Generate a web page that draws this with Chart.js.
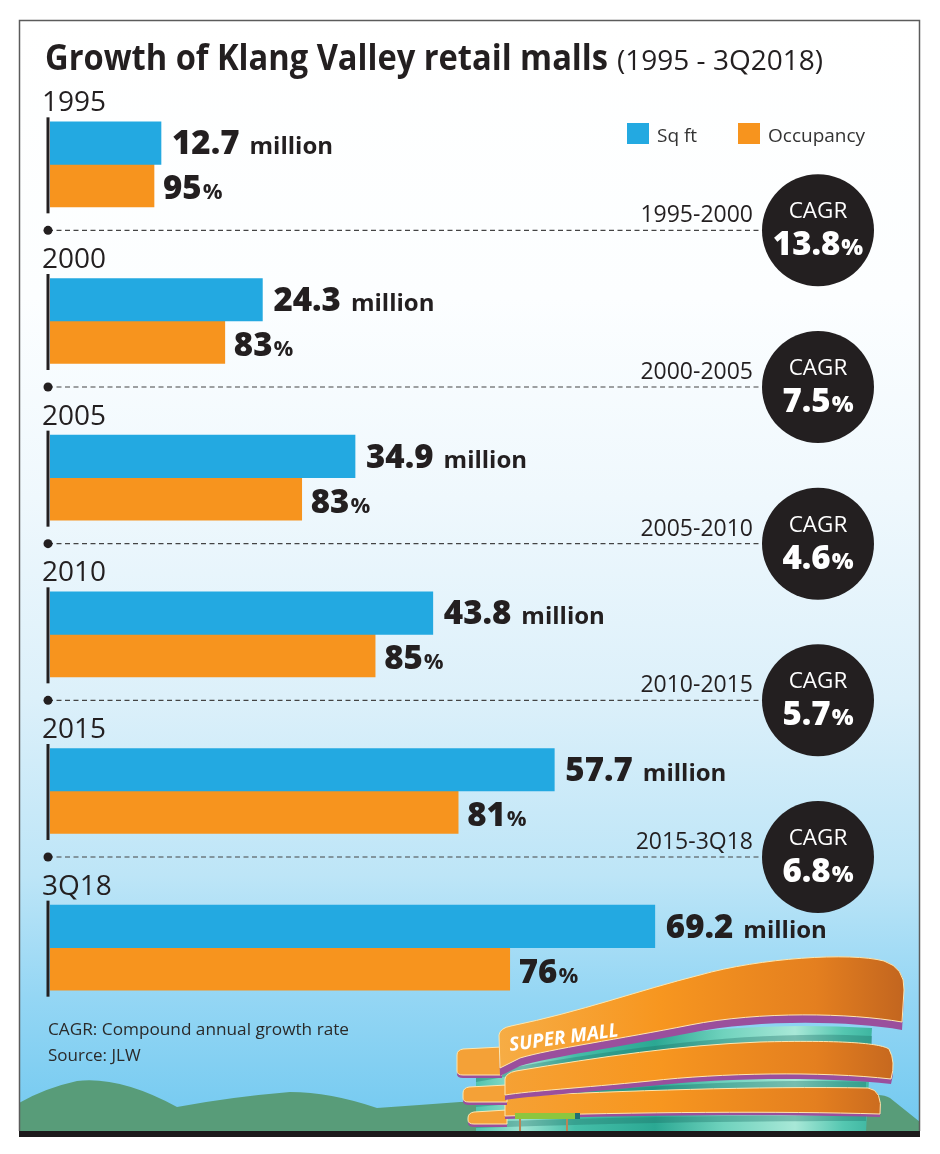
<!DOCTYPE html>
<html>
<head>
<meta charset="utf-8">
<script src="https://cdn.jsdelivr.net/npm/chart.js@4.4.1/dist/chart.umd.min.js"></script>
<style>
html,body{margin:0;padding:0;background:#fff;overflow:hidden;}
canvas{display:block;}
</style>
</head>
<body>
<canvas id="c" width="940" height="1154"></canvas>
<script>
// ---- data ----
const categories = ['1995', '2000', '2005', '2010', '2015', '3Q18'];
const sqftMillion = [12.7, 24.3, 34.9, 43.8, 57.7, 69.2];        // blue bars (million sq ft)
const occupancyPct = [95, 83, 83, 85, 81, 76];                   // labels on orange bars
const occupiedMillion = [11.9, 20.0, 28.8, 37.2, 46.7, 52.6];    // orange bar lengths
const cagrPeriods = ['1995-2000', '2000-2005', '2005-2010', '2010-2015', '2015-3Q18'];
const cagrPct = ['13.8', '7.5', '4.6', '5.7', '6.8'];
const seriesNames = ['Sq ft', 'Occupancy'];

const BLUE = '#23a9e1', ORANGE = '#f7941e', INK = '#231f20';
const FONT = '"Open Sans", "Liberation Sans", sans-serif';

function txt(ctx, s, x, y, font, color, align, w) {
  ctx.save();
  ctx.font = font; ctx.fillStyle = color; ctx.textBaseline = 'alphabetic'; ctx.textAlign = 'left';
  const m = ctx.measureText(s).width;
  const sx = w ? w / m : 1;
  const x0 = align === 'right' ? x - m * sx : (align === 'center' ? x - m * sx / 2 : x);
  ctx.translate(x0, y); ctx.scale(sx, 1); ctx.fillText(s, 0, 0);
  ctx.restore();
  return m * sx;
}
function measure(ctx, s, font) { ctx.save(); ctx.font = font; const w = ctx.measureText(s).width; ctx.restore(); return w; }

function drawMall(ctx) {
  ctx.save();
  // glass body
  const g = ctx.createLinearGradient(475, 0, 875, 0);
  g.addColorStop(0, '#4fc3ad'); g.addColorStop(0.12, '#9ee3d2'); g.addColorStop(0.25, '#45bea8');
  g.addColorStop(0.45, '#2ba893'); g.addColorStop(0.62, '#6fd2bd'); g.addColorStop(0.8, '#a8e8d7');
  g.addColorStop(0.92, '#55c7b1'); g.addColorStop(1, '#3bb49f');
  ctx.fillStyle = g;
  ctx.beginPath();
  ctx.moveTo(476, 1131); ctx.lineTo(476, 1070); ctx.lineTo(520, 1058);
  ctx.bezierCurveTo(640, 1036, 740, 1020, 872, 1028);
  ctx.lineTo(866, 1131); ctx.closePath(); ctx.fill();
  // darker shade under bands
  ctx.fillStyle = 'rgba(30,110,100,0.35)';
  ctx.beginPath(); ctx.moveTo(476,1074); ctx.bezierCurveTo(640,1044,760,1030,872,1036); ctx.lineTo(872,1044); ctx.bezierCurveTo(760,1040,640,1052,476,1082); ctx.closePath(); ctx.fill();
  ctx.beginPath(); ctx.moveTo(476,1100); ctx.bezierCurveTo(640,1086,760,1078,866,1082); ctx.lineTo(866,1089); ctx.bezierCurveTo(760,1086,640,1093,476,1107); ctx.closePath(); ctx.fill();
  ctx.beginPath(); ctx.moveTo(476,1122); ctx.bezierCurveTo(640,1116,760,1115,866,1116); ctx.lineTo(866,1121); ctx.bezierCurveTo(760,1121,640,1122,476,1128); ctx.closePath(); ctx.fill();

  function bandGrad(light) {
    const bg = ctx.createLinearGradient(460, 0, 905, 0);
    bg.addColorStop(0, light ? '#f6b24e' : '#f5a43a');
    bg.addColorStop(0.45, '#f7961f');
    bg.addColorStop(0.8, '#e47f1f');
    bg.addColorStop(1, '#c2651f');
    return bg;
  }
  function band(pathFn, drop, light) {
    ctx.save(); ctx.translate(0, drop); ctx.fillStyle = '#9a4f9d'; pathFn(); ctx.fill(); ctx.restore();
    ctx.fillStyle = bandGrad(light); pathFn(); ctx.fill();
    ctx.strokeStyle = '#fde7b0'; ctx.lineWidth = 1; pathFn(); ctx.stroke();
  }
  function leftPiece(x1, y1, x2, y2) {
    const p = () => { ctx.beginPath(); ctx.moveTo(x2, y1); ctx.lineTo(x1 + 6, y1 + 2); ctx.quadraticCurveTo(x1, y1 + 3, x1, y1 + 8); ctx.lineTo(x1, y2 - 4); ctx.quadraticCurveTo(x1, y2, x1 + 6, y2); ctx.lineTo(x2, y2); ctx.closePath(); };
    ctx.save(); ctx.translate(0, 3); ctx.fillStyle = '#9a4f9d'; p(); ctx.fill(); ctx.restore();
    ctx.fillStyle = '#f4a137'; p(); ctx.fill();
    ctx.strokeStyle = '#fde7b0'; ctx.lineWidth = 1; ctx.stroke();
  }
  // band 3 (lowest)
  leftPiece(468, 1110, 507, 1124);
  band(function () {
    ctx.beginPath(); ctx.moveTo(505, 1116); ctx.lineTo(505, 1102); ctx.quadraticCurveTo(507, 1097, 516, 1096);
    ctx.bezierCurveTo(620, 1091, 760, 1086, 868, 1088); ctx.quadraticCurveTo(883, 1090, 880, 1114);
    ctx.bezierCurveTo(780, 1111, 640, 1112, 505, 1116); ctx.closePath();
  }, 3, false);
  // band 2
  leftPiece(463, 1085, 507, 1102);
  band(function () {
    ctx.beginPath(); ctx.moveTo(505, 1095); ctx.lineTo(505, 1079); ctx.quadraticCurveTo(506, 1073, 516, 1071);
    ctx.bezierCurveTo(600, 1057, 680, 1045, 760, 1042); ctx.bezierCurveTo(840, 1040, 880, 1043, 889, 1049);
    ctx.quadraticCurveTo(896, 1062, 891, 1079);
    ctx.bezierCurveTo(820, 1071, 720, 1073, 650, 1081); ctx.bezierCurveTo(580, 1088, 530, 1091, 505, 1095); ctx.closePath();
  }, 5, false);
  // band 1 (sign)
  leftPiece(457, 1047, 502, 1075);
  band(function () {
    ctx.beginPath(); ctx.moveTo(500, 1068); ctx.lineTo(499, 1035); ctx.quadraticCurveTo(500, 1028, 511, 1026);
    ctx.bezierCurveTo(580, 1012, 640, 990, 700, 975); ctx.bezierCurveTo(760, 958, 850, 952, 884, 961);
    ctx.quadraticCurveTo(905, 968, 904, 990); ctx.lineTo(902, 1022);
    ctx.bezierCurveTo(850, 1013, 760, 1011, 690, 1025); ctx.bezierCurveTo(620, 1039, 550, 1049, 520, 1058); ctx.closePath();
  }, 8, true);
  // awning
  ctx.fillStyle = '#8cc63f'; ctx.fillRect(515, 1113, 60, 6);
  ctx.fillStyle = '#1f6f73'; ctx.fillRect(575, 1113, 5, 6);
  ctx.fillStyle = '#b98457'; ctx.fillRect(519, 1119, 2, 12); ctx.fillRect(566, 1119, 2, 12);
  // sign text
  ctx.save(); ctx.translate(510, 1051); ctx.rotate(-0.135);
  txt(ctx, 'SUPER MALL', 0, 0, 'italic bold 19px ' + FONT, '#ffffff', 'left', 110);
  ctx.restore();
  ctx.restore();
}

const backdrop = {
  id: 'backdrop',
  beforeDraw(chart) {
    const ctx = chart.ctx;
    ctx.save();
    ctx.fillStyle = '#ffffff'; ctx.fillRect(0, 0, 940, 1154);
    const sky = ctx.createLinearGradient(0, 20, 0, 1131);
    sky.addColorStop(0, '#ffffff'); sky.addColorStop(0.25, '#fcfeff'); sky.addColorStop(0.43, '#eff8fd');
    sky.addColorStop(0.61, '#dcf0fa'); sky.addColorStop(0.77, '#bde5f7'); sky.addColorStop(0.88, '#94d6f4');
    sky.addColorStop(1, '#72c9f0');
    ctx.fillStyle = sky; ctx.fillRect(19, 20, 901, 1111);
    // hills
    ctx.fillStyle = '#589c79';
    ctx.beginPath(); ctx.moveTo(19, 1103);
    ctx.quadraticCurveTo(45, 1088, 77, 1081); ctx.quadraticCurveTo(120, 1076, 177, 1107);
    ctx.quadraticCurveTo(230, 1097, 290, 1092); ctx.quadraticCurveTo(330, 1092, 377, 1108);
    ctx.quadraticCurveTo(420, 1105, 460, 1102); ctx.lineTo(860, 1098);
    ctx.quadraticCurveTo(880, 1092, 890, 1098); ctx.quadraticCurveTo(905, 1110, 920, 1122);
    ctx.lineTo(920, 1131); ctx.lineTo(19, 1131); ctx.closePath(); ctx.fill();
    // frame
    ctx.strokeStyle = '#5b5b5b'; ctx.lineWidth = 1.5;
    ctx.beginPath(); ctx.moveTo(19.5, 1131); ctx.lineTo(19.5, 20.5); ctx.lineTo(919.5, 20.5); ctx.lineTo(919.5, 1131); ctx.stroke();
    ctx.fillStyle = '#1c1a1b'; ctx.fillRect(19, 1131, 901, 6);
    drawMall(ctx);
    ctx.restore();
  }
};

const overlay = {
  id: 'overlay',
  afterDatasetsDraw(chart) {
    const ctx = chart.ctx, xs = chart.scales.x, ys = chart.scales.y;
    ctx.save();
    // title
    txt(ctx, 'Growth of Klang Valley retail malls', 45, 70, 'bold 35px ' + FONT, INK, 'left', 563);
    txt(ctx, '(1995 - 3Q2018)', 617, 70, '28px ' + FONT, INK, 'left', 206);
    // legend
    const ds = chart.data.datasets;
    ctx.fillStyle = ds[0].backgroundColor; ctx.fillRect(627, 123, 22, 21);
    txt(ctx, ds[0].label, 657, 142, '19px ' + FONT, '#333333', 'left');
    ctx.fillStyle = ds[1].backgroundColor; ctx.fillRect(738, 123, 22, 21);
    txt(ctx, ds[1].label, 768, 142, '19px ' + FONT, '#333333', 'left');

    // dashed separators with CAGR
    cagrPeriods.forEach((p, i) => {
      const ly = ys.getPixelForValue(i) + 66;
      ctx.save();
      ctx.strokeStyle = '#444'; ctx.lineWidth = 1.2; ctx.setLineDash([5, 3.5]);
      ctx.beginPath(); ctx.moveTo(48, ly); ctx.lineTo(800, ly); ctx.stroke();
      ctx.restore();
      ctx.fillStyle = INK; ctx.beginPath(); ctx.arc(48, ly, 4.5, 0, Math.PI * 2); ctx.fill();
      txt(ctx, p, 753, ly - 8, '23px ' + FONT, INK, 'right');
      ctx.fillStyle = INK; ctx.beginPath(); ctx.arc(818, ly, 56, 0, Math.PI * 2); ctx.fill();
      txt(ctx, 'CAGR', 818, ly - 12, '22.5px ' + FONT, '#ffffff', 'center');
      const f1 = '800 33px ' + FONT, f2 = '800 23px ' + FONT;
      const w1 = measure(ctx, cagrPct[i], f1), w2 = measure(ctx, '%', f2);
      const x0 = 818 - (w1 + w2 + 1) / 2;
      txt(ctx, cagrPct[i], x0, ly + 25, f1, '#ffffff', 'left');
      txt(ctx, '%', x0 + w1 + 1, ly + 25, f2, '#ffffff', 'left');
    });

    categories.forEach((c, i) => {
      const cy = ys.getPixelForValue(i);
      txt(ctx, c, 42, cy - 53, '28px ' + FONT, INK, 'left');
      ctx.fillStyle = INK; ctx.fillRect(46.5, cy - 47, 3, 96);
      const bx = xs.getPixelForValue(sqftMillion[i]) + 11;
      const wn = txt(ctx, sqftMillion[i].toFixed(1), bx, cy - 10, '800 33px ' + FONT, INK, 'left');
      txt(ctx, 'million', bx + wn + 10, cy - 10, 'bold 24px ' + FONT, INK, 'left');
      const ox = xs.getPixelForValue(occupiedMillion[i]) + 9;
      const wp = txt(ctx, String(occupancyPct[i]), ox, cy + 35, '800 33px ' + FONT, INK, 'left');
      txt(ctx, '%', ox + wp + 1, cy + 35, 'bold 22px ' + FONT, INK, 'left');
    });

    // footer
    txt(ctx, 'CAGR: Compound annual growth rate', 48, 1035, '17px ' + FONT, '#2a2a2a', 'left', 301);
    txt(ctx, 'Source: JLW', 48, 1061, '17px ' + FONT, '#2a2a2a', 'left');
    ctx.restore();
  }
};

function build() {
  new Chart(document.getElementById('c'), {
    type: 'bar',
    data: {
      labels: categories,
      datasets: [
        { label: seriesNames[0], data: sqftMillion, backgroundColor: BLUE, barThickness: 42.5, borderWidth: 0 },
        { label: seriesNames[1], data: occupiedMillion, backgroundColor: ORANGE, barThickness: 42.5, borderWidth: 0 }
      ]
    },
    options: {
      indexAxis: 'y',
      responsive: false,
      animation: false,
      devicePixelRatio: 1,
      layout: { padding: { left: 50, right: 16, top: 86, bottom: 128 } },
      scales: {
        x: { display: false, min: 0, max: 100 },
        y: { display: false, offset: true }
      },
      plugins: { legend: { display: false }, tooltip: { enabled: false }, title: { display: false } }
    },
    plugins: [backdrop, overlay]
  });
}
Promise.all([
  document.fonts.load('800 20px "Open Sans"'),
  document.fonts.load('bold 20px "Open Sans"'),
  document.fonts.load('20px "Open Sans"'),
  document.fonts.load('italic bold 20px "Open Sans"')
]).then(build, build);
</script>
</body>
</html>
